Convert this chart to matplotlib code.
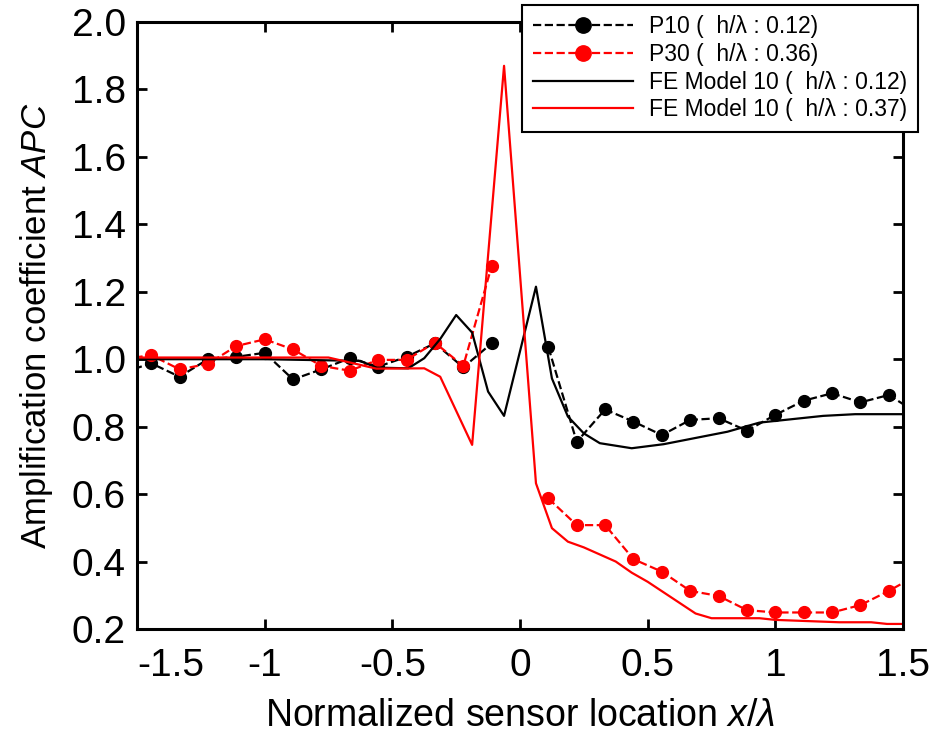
import numpy as np
import matplotlib
matplotlib.use("Agg")
import matplotlib.pyplot as plt

plt.rcParams["font.family"] = ["Liberation Sans", "DejaVu Sans"]
plt.rcParams["mathtext.fontset"] = "custom"
plt.rcParams["mathtext.rm"] = "Liberation Sans"
plt.rcParams["mathtext.it"] = "Liberation Sans:italic"
plt.rcParams["axes.unicode_minus"] = False

# ── Data ───────────────────────────────────────────────────────────────────────
# sensor positions x/lambda (spacing 1/9, no sensor at x = 0)
sensor_x = np.arange(-14, 15) / 9.0

p10 = np.array([
    0.96, 0.988, 0.948, 1.000, 1.007, 1.019, 0.940, 0.970, 1.003, 0.978, 1.007,
    1.047, 0.976, 1.047, np.nan, 1.035, 0.755, 0.851, 0.815, 0.775, 0.820,
    0.825, 0.788, 0.835, 0.877, 0.899, 0.872, 0.894, 0.84,
])

p30 = np.array([
    1.00, 1.012, 0.970, 0.986, 1.039, 1.059, 1.029, 0.980, 0.966, 0.998, 0.998,
    1.049, 0.980, 1.276, np.nan, 0.587, 0.508, 0.508, 0.407, 0.370, 0.313,
    0.298, 0.256, 0.249, 0.249, 0.249, 0.271, 0.313, 0.36,
])

fe_black_x = [-1.5, -1.0, -0.625, -0.5625, -0.4375, -0.375, -0.3125, -0.25,
              -0.1875, -0.125, -0.0625, 0.0625, 0.125, 0.1875, 0.25, 0.3125,
              0.4375, 0.5625, 0.8125, 0.9375, 1.1875, 1.3125, 1.5]
fe_black_y = [1.0, 1.0, 0.995, 0.975, 0.973, 1.003, 1.06, 1.131,
              1.079, 0.904, 0.832, 1.215, 0.943, 0.830, 0.780, 0.751,
              0.736, 0.748, 0.785, 0.812, 0.832, 0.837, 0.837]

fe_red_x = [-1.5, -0.75, -0.5625, -0.375, -0.3125, -0.1875, -0.0625, 0.0625,
            0.125, 0.1875, 0.25, 0.375, 0.4375, 0.5, 0.6875, 0.75, 0.9375,
            1.0, 1.25, 1.375, 1.4375, 1.5]
fe_red_y = [1.005, 1.005, 0.972, 0.973, 0.948, 0.746, 1.870, 0.632,
            0.499, 0.459, 0.442, 0.400, 0.367, 0.340, 0.246, 0.232, 0.232,
            0.227, 0.220, 0.220, 0.215, 0.215]

labels = [
    "P10 (  h/\u03bb : 0.12)",
    "P30 (  h/\u03bb : 0.36)",
    "FE Model 10 (  h/\u03bb : 0.12)",
    "FE Model 10 (  h/\u03bb : 0.37)",
]

xticks = [-1.5, -1.0, -0.5, 0.0, 0.5, 1.0, 1.5]
xticklabels = ["-1.5", "-1", "-0.5", "0", "0.5", "1", "1.5"]
yticks = np.round(np.arange(0.2, 2.01, 0.2), 1)

# ── Plot ───────────────────────────────────────────────────────────────────────
fig = plt.figure(figsize=(9.3, 7.4), dpi=100)
ax = fig.add_axes([0.1473, 0.150, 0.8237, 0.8203])

ax.plot(sensor_x, p10, "k--o", lw=1.6, ms=8.5, label=labels[0])
ax.plot(sensor_x, p30, "--o", color="red", lw=1.6, ms=8.5, label=labels[1])
ax.plot(fe_black_x, fe_black_y, "k-", lw=1.6, label=labels[2])
ax.plot(fe_red_x, fe_red_y, "-", color="red", lw=1.6, label=labels[3])

ax.set_xlim(-1.5, 1.5)
ax.set_ylim(0.2, 2.0)
ax.set_xticks(xticks)
ax.set_xticklabels(xticklabels)
ax.set_yticks(yticks)
ax.set_yticklabels([f"{v:.1f}" for v in yticks])
ax.get_xticklabels()[0].set_horizontalalignment("left")

ax.tick_params(direction="in", length=7, width=2, labelsize=28,
               top=True, right=True)
ax.tick_params(axis="x", pad=14)
ax.tick_params(axis="y", pad=8)
for sp in ax.spines.values():
    sp.set_linewidth(2.2)

ax.set_xlabel(r"Normalized sensor location $x/\lambda$", fontsize=27, labelpad=10)
ax.set_ylabel(r"Amplification coefficient $APC$", fontsize=25, labelpad=12)

leg = fig.legend(loc="upper right", bbox_to_anchor=(0.987, 0.993),
                 fontsize=16.5, handlelength=4.4, handletextpad=0.7,
                 labelspacing=0.2, markerscale=1.3, fancybox=False,
                 framealpha=1, borderpad=0.45, borderaxespad=0)
leg.get_frame().set_edgecolor("black")
leg.get_frame().set_linewidth(1.5)

plt.savefig("out.png", dpi=100)
